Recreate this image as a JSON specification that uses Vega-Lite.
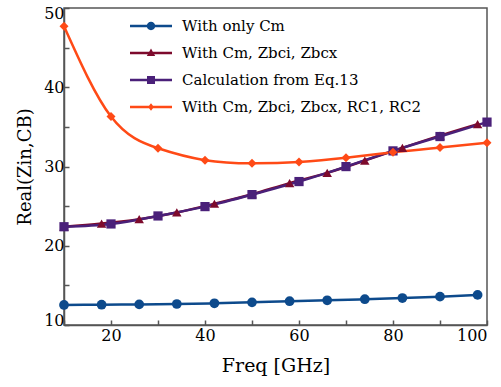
{
  "$schema": "https://vega.github.io/schema/vega-lite/v6.json",
  "width": 423,
  "height": 317,
  "autosize": "none",
  "padding": {"left": 64, "top": 8, "right": 14, "bottom": 62},
  "config": {
    "font": "DejaVu Serif",
    "view": {"stroke": "#555555", "strokeWidth": 1.5},
    "axis": {
      "grid": false,
      "domainColor": "#555555",
      "domainWidth": 1.5,
      "tickColor": "#555555",
      "tickWidth": 1.5,
      "tickSize": -5,
      "labelFont": "DejaVu Serif",
      "labelFontSize": 16,
      "labelColor": "#000000",
      "titleFont": "DejaVu Serif",
      "titleFontSize": 19,
      "titleFontWeight": "normal",
      "titleColor": "#000000"
    },
    "legend": {
      "labelFont": "DejaVu Serif",
      "labelFontSize": 15,
      "labelColor": "#000000",
      "labelLimit": 400
    }
  },
  "data": {
    "values": [
      {"s": "With only Cm", "f": 10, "v": 12.53},
      {"s": "With only Cm", "f": 18, "v": 12.56},
      {"s": "With only Cm", "f": 26, "v": 12.6},
      {"s": "With only Cm", "f": 34, "v": 12.65},
      {"s": "With only Cm", "f": 42, "v": 12.74},
      {"s": "With only Cm", "f": 50, "v": 12.86},
      {"s": "With only Cm", "f": 58, "v": 13.0},
      {"s": "With only Cm", "f": 66, "v": 13.12},
      {"s": "With only Cm", "f": 74, "v": 13.25},
      {"s": "With only Cm", "f": 82, "v": 13.4},
      {"s": "With only Cm", "f": 90, "v": 13.58},
      {"s": "With only Cm", "f": 98, "v": 13.8},
      {"s": "With Cm, Zbci, Zbcx", "f": 10, "v": 22.4},
      {"s": "With Cm, Zbci, Zbcx", "f": 18, "v": 22.8},
      {"s": "With Cm, Zbci, Zbcx", "f": 26, "v": 23.35},
      {"s": "With Cm, Zbci, Zbcx", "f": 34, "v": 24.2},
      {"s": "With Cm, Zbci, Zbcx", "f": 42, "v": 25.3},
      {"s": "With Cm, Zbci, Zbcx", "f": 50, "v": 26.5},
      {"s": "With Cm, Zbci, Zbcx", "f": 58, "v": 27.9},
      {"s": "With Cm, Zbci, Zbcx", "f": 66, "v": 29.2},
      {"s": "With Cm, Zbci, Zbcx", "f": 74, "v": 30.75},
      {"s": "With Cm, Zbci, Zbcx", "f": 82, "v": 32.35},
      {"s": "With Cm, Zbci, Zbcx", "f": 90, "v": 33.9},
      {"s": "With Cm, Zbci, Zbcx", "f": 98, "v": 35.35},
      {"s": "Calculation from Eq.13", "f": 10, "v": 22.4},
      {"s": "Calculation from Eq.13", "f": 20, "v": 22.75},
      {"s": "Calculation from Eq.13", "f": 30, "v": 23.76},
      {"s": "Calculation from Eq.13", "f": 40, "v": 24.94},
      {"s": "Calculation from Eq.13", "f": 50, "v": 26.45},
      {"s": "Calculation from Eq.13", "f": 60, "v": 28.1},
      {"s": "Calculation from Eq.13", "f": 70, "v": 29.99},
      {"s": "Calculation from Eq.13", "f": 80, "v": 31.97},
      {"s": "Calculation from Eq.13", "f": 90, "v": 33.78},
      {"s": "Calculation from Eq.13", "f": 100, "v": 35.6},
      {"s": "With Cm, Zbci, Zbcx, RC1, RC2", "f": 10, "v": 47.7},
      {"s": "With Cm, Zbci, Zbcx, RC1, RC2", "f": 20, "v": 36.3},
      {"s": "With Cm, Zbci, Zbcx, RC1, RC2", "f": 30, "v": 32.3},
      {"s": "With Cm, Zbci, Zbcx, RC1, RC2", "f": 40, "v": 30.8},
      {"s": "With Cm, Zbci, Zbcx, RC1, RC2", "f": 50, "v": 30.4},
      {"s": "With Cm, Zbci, Zbcx, RC1, RC2", "f": 60, "v": 30.57},
      {"s": "With Cm, Zbci, Zbcx, RC1, RC2", "f": 70, "v": 31.1},
      {"s": "With Cm, Zbci, Zbcx, RC1, RC2", "f": 80, "v": 31.8},
      {"s": "With Cm, Zbci, Zbcx, RC1, RC2", "f": 90, "v": 32.4},
      {"s": "With Cm, Zbci, Zbcx, RC1, RC2", "f": 100, "v": 33.0}
    ]
  },
  "encoding": {
    "x": {
      "field": "f", "type": "quantitative",
      "scale": {"domain": [10, 100], "nice": false, "zero": false},
      "axis": {
        "title": "Freq [GHz]",
        "values": [10, 20, 30, 40, 50, 60, 70, 80, 90, 100],
        "labelExpr": "datum.value % 20 == 0 ? datum.label : ''",
        "labelPadding": 7,
        "titlePadding": 13
      }
    },
    "y": {
      "field": "v", "type": "quantitative",
      "scale": {"domain": [10, 50], "nice": false, "zero": false},
      "axis": {
        "title": "Real(Zin,CB)",
        "titleFontSize": 18,
        "values": [10, 15, 20, 25, 30, 35, 40, 45, 50],
        "labelExpr": "datum.value % 10 == 0 ? datum.label : ''",
        "labelPadding": 5,
        "labelFlush": true,
        "labelFlushOffset": 3,
        "titlePadding": 9
      }
    }
  },
  "layer": [
    {
      "mark": {"type": "line", "interpolate": "natural", "strokeWidth": 2.5},
      "encoding": {
        "color": {
          "field": "s", "type": "nominal",
          "scale": {
            "domain": ["With only Cm", "With Cm, Zbci, Zbcx", "Calculation from Eq.13", "With Cm, Zbci, Zbcx, RC1, RC2"],
            "range": ["#0D4A8C", "#7D0A2C", "#4A2079", "#FF4A16"]
          },
          "legend": null
        }
      }
    },
    {
      "mark": {"type": "point", "filled": true, "opacity": 1},
      "encoding": {
        "color": {
          "field": "s", "type": "nominal",
          "scale": {
            "domain": ["With only Cm", "With Cm, Zbci, Zbcx", "Calculation from Eq.13", "With Cm, Zbci, Zbcx, RC1, RC2"],
            "range": ["#0D4A8C", "#7D0A2C", "#4A2079", "#FF4A16"]
          },
          "legend": null
        },
        "shape": {
          "field": "s", "type": "nominal",
          "scale": {
            "domain": ["With only Cm", "With Cm, Zbci, Zbcx", "Calculation from Eq.13", "With Cm, Zbci, Zbcx, RC1, RC2"],
            "range": ["circle", "triangle-up", "square", "diamond"]
          },
          "legend": null
        },
        "size": {
          "field": "s", "type": "nominal",
          "scale": {
            "domain": ["With only Cm", "With Cm, Zbci, Zbcx", "Calculation from Eq.13", "With Cm, Zbci, Zbcx, RC1, RC2"],
            "range": [95, 80, 100, 60]
          },
          "legend": null
        }
      }
    },
    {
      "transform": [{"filter": "datum.f < 0"}],
      "mark": {"type": "point", "filled": true, "opacity": 1},
      "encoding": {
        "color": {
          "field": "s", "type": "nominal",
          "scale": {
            "domain": ["With only Cm", "With Cm, Zbci, Zbcx", "Calculation from Eq.13", "With Cm, Zbci, Zbcx, RC1, RC2"],
            "range": ["#0D4A8C", "#7D0A2C", "#4A2079", "#FF4A16"]
          },
          "legend": {
            "title": null,
            "orient": "none",
            "legendX": 77,
            "legendY": 8,
            "padding": 0,
            "symbolSize": 400,
            "symbolOffset": 0,
            "labelOffset": 21,
            "rowPadding": 9,
            "symbolStrokeWidth": 0
          }
        },
        "shape": {
          "field": "s", "type": "nominal",
          "scale": {
            "domain": ["With only Cm", "With Cm, Zbci, Zbcx", "Calculation from Eq.13", "With Cm, Zbci, Zbcx, RC1, RC2"],
            "range": [
              "M-2.1,-0.125H2.1V0.125H-2.1Z M-0.42,0A0.42,0.42 0 1 1 0.42,0A0.42,0.42 0 1 1 -0.42,0Z",
              "M-2.1,-0.125H2.1V0.125H-2.1Z M0,-0.45L0.42,0.3L-0.42,0.3Z",
              "M-2.1,-0.125H2.1V0.125H-2.1Z M-0.4,-0.4H0.4V0.4H-0.4Z",
              "M-2.1,-0.125H2.1V0.125H-2.1Z M0,-0.38L0.3,0L0,0.38L-0.3,0Z"
            ]
          },
          "legend": {
            "title": null,
            "orient": "none",
            "legendX": 77,
            "legendY": 8,
            "padding": 0,
            "symbolSize": 400,
            "symbolOffset": 0,
            "labelOffset": 21,
            "rowPadding": 9,
            "symbolStrokeWidth": 0
          }
        }
      }
    }
  ],
  "resolve": {"scale": {"color": "independent", "shape": "independent", "size": "independent"}}
}
